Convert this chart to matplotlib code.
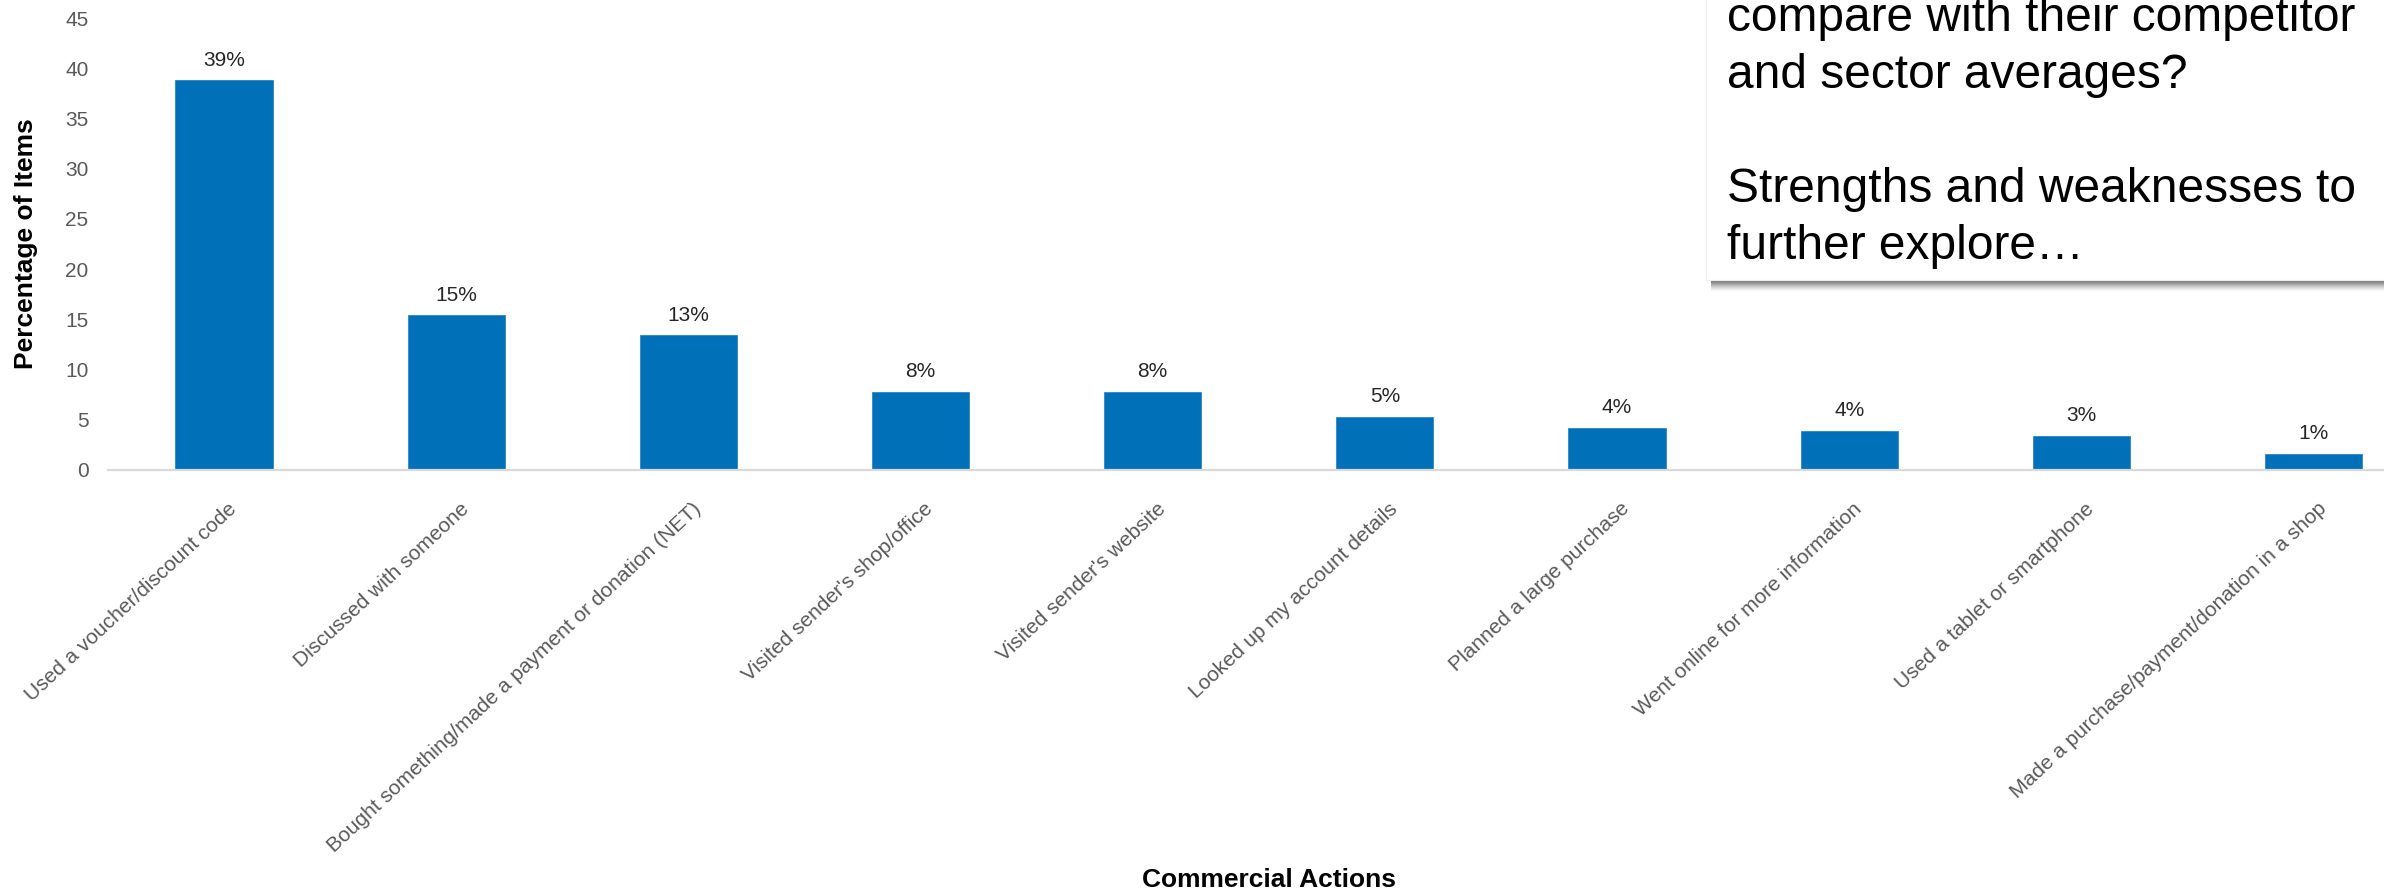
import matplotlib
matplotlib.use("Agg")
import matplotlib.pyplot as plt
from matplotlib.patches import Rectangle
from matplotlib.transforms import ScaledTranslation

plt.rcParams["font.family"] = ["Liberation Sans", "DejaVu Sans"]

# ---- data ----
actions = [
    "Used a voucher/discount code",
    "Discussed with someone",
    "Bought something/made a payment or donation (NET)",
    "Visited sender's shop/office",
    "Visited sender's website",
    "Looked up my account details",
    "Planned a large purchase",
    "Went online for more information",
    "Used a tablet or smartphone",
    "Made a purchase/payment/donation in a shop",
]
pct_items = [38.8, 15.4, 13.4, 7.8, 7.8, 5.3, 4.2, 3.9, 3.4, 1.6]
pct_labels = ["39%", "15%", "13%", "8%", "8%", "5%", "4%", "4%", "3%", "1%"]
yticks = [0, 5, 10, 15, 20, 25, 30, 35, 40, 45]

box_lines = [
    "compare with their competitor",
    "and sector averages?",
    "",
    "Strengths and weaknesses to",
    "further explore\u2026",
]

W, H = 2384, 892
BLUE = "#0070b8"
GREY = "#595959"

fig = plt.figure(figsize=(W / 100, H / 100), dpi=100)
# axes runs past the right edge on purpose (the original is cropped there)
ax = fig.add_axes([107.9 / W, 1 - 470 / H, 2321.7 / W, 452 / H])

x = list(range(len(actions)))
ax.bar(x, pct_items, width=0.418, color=BLUE, edgecolor="#2a86c8", linewidth=0.6)
ax.set_xlim(-0.5, len(actions) - 0.5)
ax.set_ylim(0, 45)
ax.set_yticks(yticks)
ax.set_yticklabels([str(v) for v in yticks], fontsize=15, color=GREY)

for s in ("top", "right", "left"):
    ax.spines[s].set_visible(False)
ax.spines["bottom"].set_color("#d9d9d9")
ax.spines["bottom"].set_linewidth(1.6)
ax.tick_params(axis="both", length=0)
ax.tick_params(axis="y", pad=14)
ax.tick_params(axis="x", pad=26)

ax.set_xticks(x)
ax.set_xticklabels(actions, rotation=43, ha="right", va="center",
                   rotation_mode="anchor", fontsize=15, color=GREY)
for lab in ax.get_xticklabels():
    lab.set_transform(lab.get_transform() + ScaledTranslation(10 / 100, 0, fig.dpi_scale_trans))

for xi, v, t in zip(x, pct_items, pct_labels):
    ax.annotate(t, (xi, v), xytext=(0, 10.5), textcoords="offset points",
                ha="center", va="baseline", fontsize=15, color="#262626")

cx = (107.9 + 2321.7 / 2) / W
fig.text(cx, 1 - 887 / H, "Commercial Actions", ha="center", va="baseline",
         fontsize=19, fontweight="bold", color="black")
fig.text(26 / W, 1 - 244 / H, "Percentage of Items", rotation=90, ha="center",
         va="center", fontsize=19, fontweight="bold", color="black")

# ---- callout box top right (with soft bottom shadow) ----
bx, by = 1706 / W, 1 - 280 / H
for i in range(12):
    a = 0.16 * (1 - i / 12)
    fig.patches.append(Rectangle((bx + 5 / W, by - (i + 1) / H), 1, (i + 1) / H,
                                 transform=fig.transFigure, facecolor="#303030",
                                 edgecolor="none", alpha=a, zorder=4))
fig.patches.append(Rectangle((bx, by), 1, 1, transform=fig.transFigure,
                             facecolor="white", edgecolor="#ececec", linewidth=0.8, zorder=5))
for i, line in enumerate(box_lines):
    fig.text(1727 / W, 1 - (31 + 57 * i) / H, line, ha="left", va="baseline",
             fontsize=34.5, color="black", zorder=6)

fig.savefig("out.png", dpi=100)
